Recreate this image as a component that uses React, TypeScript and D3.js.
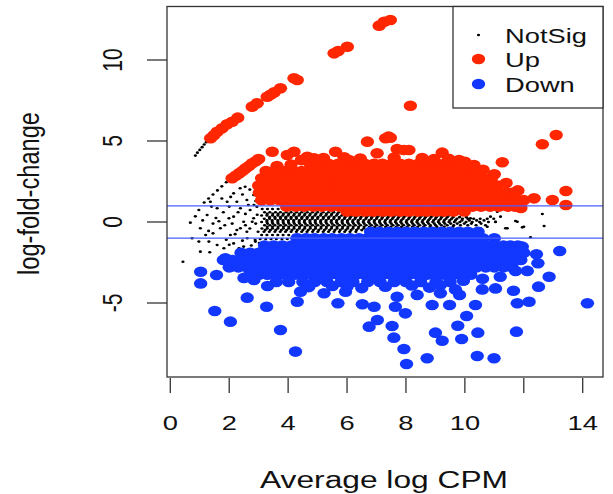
import React from "react";
import * as d3 from "d3";

type Pt = [number, number];
type Row = { y: number; xs: number[] };

const xTicks = [0, 2, 4, 6, 8, 10, 12, 14];
const xTickLabels = ["0", "2", "4", "6", "8", "10", "", "14"];
const yTicks = [-5, 0, 5, 10];
const yTickLabels = ["-5", "0", "5", "10"];
const legendLabels = ["NotSig", "Up", "Down"];
const refLines = [1, -1];

// Up (red) — isolated / streak / fringe points
const upPoints: Pt[] = [
  [1.37, 5.17], [1.48, 5.35], [1.59, 5.57], [1.76, 5.78], [1.93, 6.03], [2.1, 6.19], [2.29, 6.44],
  [2.78, 7.12], [2.95, 7.33], [3.29, 7.73], [3.4, 7.85], [3.52, 8.0], [3.74, 8.25], [4.2, 8.87], [4.31, 8.77],
  [5.56, 10.41], [5.7, 10.55], [6.01, 10.82], [7.09, 12.12], [7.26, 12.36], [7.47, 12.47],
  [2.1, 2.7], [2.22, 2.85], [2.33, 3.0], [2.45, 3.15], [2.55, 3.31], [2.67, 3.46], [2.78, 3.62], [2.9, 3.75], [3.0, 3.89],
  [3.46, 4.34], [3.97, 4.14], [4.2, 4.34], [4.65, 4.03], [4.88, 3.93], [5.61, 4.34], [6.07, 3.83], [6.69, 4.96],
  [7.31, 5.17], [7.41, 5.27], [7.02, 4.24], [7.47, 5.2], [7.7, 4.5], [8.1, 4.44], [7.93, 4.44], [8.15, 7.18],
  [9.23, 4.28], [9.8, 3.83], [10.31, 3.52], [11.27, 3.69], [12.63, 4.8], [13.1, 5.37], [13.43, 1.91], [13.43, 1.05],
  [12.35, 1.46], [12.97, 1.36], [11.67, 1.42], [10.43, 2.9], [11.9, 0.86],
  [5.2, 3.95], [5.9, 4.0], [6.45, 3.92], [7.6, 3.98], [8.55, 3.95], [8.95, 3.88], [9.45, 3.9], [10.0, 3.72],
  [10.62, 3.22], [11.0, 2.95], [3.62, 3.45], [4.1, 3.55], [4.45, 3.82], [11.4, 2.4], [11.8, 1.95],
];

// Up (red) — dense body, read row by row
const upRows: Row[] = [
  { y: 3.6, xs: [4.75, 5.05, 5.37, 5.7, 6.0, 6.32, 6.6, 6.92, 7.2, 7.52, 7.8, 8.1, 8.42, 8.7, 9.02, 9.3, 9.62, 9.95] },
  { y: 3.15, xs: [3.25, 3.55, 3.86, 4.15, 4.46, 4.75, 5.06, 5.35, 5.66, 5.95, 6.26, 6.55, 6.86, 7.15, 7.46, 7.75, 8.06, 8.35, 8.66, 8.95, 9.26, 9.55, 9.86, 10.15, 10.45] },
  { y: 2.7, xs: [3.1, 3.41, 3.7, 4.01, 4.3, 4.61, 4.9, 5.21, 5.5, 5.81, 6.1, 6.41, 6.7, 7.01, 7.3, 7.61, 7.9, 8.21, 8.5, 8.81, 9.1, 9.41, 9.7, 10.01, 10.3, 10.61, 10.9] },
  { y: 2.25, xs: [3.0, 3.31, 3.6, 3.91, 4.2, 4.51, 4.8, 5.11, 5.4, 5.71, 6.0, 6.31, 6.6, 6.91, 7.2, 7.51, 7.8, 8.11, 8.4, 8.71, 9.0, 9.31, 9.6, 9.91, 10.2, 10.51, 10.8, 11.12] },
  { y: 1.8, xs: [3.02, 3.32, 3.63, 3.92, 4.23, 4.52, 4.83, 5.12, 5.43, 5.72, 6.03, 6.32, 6.63, 6.92, 7.23, 7.52, 7.83, 8.12, 8.43, 8.72, 9.03, 9.32, 9.63, 9.92, 10.23, 10.52, 10.83, 11.12, 11.42, 11.62] },
  { y: 1.35, xs: [3.1, 3.4, 3.71, 4.0, 4.31, 4.6, 4.91, 5.2, 5.51, 5.8, 6.11, 6.4, 6.71, 7.0, 7.31, 7.6, 7.91, 8.2, 8.51, 8.8, 9.11, 9.4, 9.71, 10.0, 10.31, 10.6, 10.91, 11.2, 11.51, 11.8, 12.0] },
  { y: 0.95, xs: [3.95, 4.26, 4.55, 4.86, 5.15, 5.46, 5.75, 6.06, 6.35, 6.66, 6.95, 7.26, 7.55, 7.86, 8.15, 8.46, 8.75, 9.06, 9.35, 9.66, 9.95, 10.26, 10.55, 10.86, 11.15, 11.46, 11.7] },
  { y: 0.65, xs: [6.0, 6.3, 6.61, 6.9, 7.21, 7.5, 7.81, 8.1, 8.41, 8.7, 9.01, 9.3, 9.61, 9.98] },
];

// Down (blue) — isolated points
const downPoints: Pt[] = [
  [1.03, -3.07], [1.03, -3.79], [1.57, -3.27], [1.51, -5.49], [2.04, -6.15], [2.61, -4.67], [3.27, -5.23],
  [2.84, -3.58], [3.74, -6.67], [4.25, -8.0], [4.31, -4.92], [4.42, -4.3], [5.22, -4.4], [5.69, -5.02],
  [5.95, -4.3], [6.52, -5.08], [6.92, -5.23], [7.03, -6.05], [6.75, -6.46], [1.87, -2.24], [2.04, -2.76],
  [14.16, -5.02], [13.22, -1.79], [12.86, -3.38], [12.5, -3.99], [12.43, -1.99], [12.48, -2.55], [12.18, -4.92],
  [11.78, -5.02], [11.65, -4.24], [11.75, -6.77], [10.99, -8.41], [10.42, -8.27], [10.44, -6.83], [10.36, -5.12],
  [10.06, -5.8], [9.76, -6.4], [9.89, -7.22], [9.23, -7.33], [9.0, -6.83], [8.72, -8.41], [8.02, -8.77],
  [7.93, -7.84], [7.59, -7.14], [7.53, -6.42], [7.98, -5.64], [7.64, -5.23], [8.89, -5.12], [9.48, -5.12],
  [9.82, -4.5], [10.59, -4.16], [11.04, -4.1], [9.17, -3.89], [9.17, -4.4], [9.68, -4.16], [8.38, -4.5],
  [7.7, -4.61], [12.12, -3.02], [11.72, -3.02], [11.95, -1.52], [11.44, -2.65],
  [3.3, -3.95], [4.7, -4.02], [5.5, -3.95], [6.5, -4.08], [7.3, -4.0], [8.2, -3.92], [8.8, -4.05],
  [10.6, -3.5], [11.2, -3.38], [2.5, -3.45], [9.95, -3.62], [6.0, -3.98],
];

// Down (blue) — dense body, read row by row
const downRows: Row[] = [
  { y: -0.6, xs: [6.8, 7.1, 7.41, 7.7, 8.01, 8.3, 8.61, 8.9, 9.21, 9.5, 9.81, 10.1, 10.45] },
  { y: -1.0, xs: [4.3, 4.61, 4.9, 5.21, 5.5, 5.81, 6.1, 6.41, 6.7, 7.01, 7.3, 7.61, 7.9, 8.21, 8.5, 8.81, 9.1, 9.41, 9.7, 10.01, 10.3, 10.61, 11.0] },
  { y: -1.45, xs: [3.2, 3.51, 3.8, 4.11, 4.4, 4.71, 5.0, 5.31, 5.6, 5.91, 6.2, 6.51, 6.8, 7.11, 7.4, 7.71, 8.0, 8.31, 8.6, 8.91, 9.2, 9.51, 9.8, 10.11, 10.4, 10.71, 11.0, 11.31, 11.55, 11.8] },
  { y: -1.9, xs: [2.4, 2.71, 3.0, 3.31, 3.6, 3.91, 4.2, 4.51, 4.8, 5.11, 5.4, 5.71, 6.0, 6.31, 6.6, 6.91, 7.2, 7.51, 7.8, 8.11, 8.4, 8.71, 9.0, 9.31, 9.6, 9.91, 10.2, 10.51, 10.8, 11.11, 11.4, 11.71, 12.0] },
  { y: -2.35, xs: [1.8, 2.11, 2.4, 2.71, 3.0, 3.31, 3.6, 3.91, 4.2, 4.51, 4.8, 5.11, 5.4, 5.71, 6.0, 6.31, 6.6, 6.91, 7.2, 7.51, 7.8, 8.11, 8.4, 8.71, 9.0, 9.31, 9.6, 9.91, 10.2, 10.51, 10.8, 11.11, 11.4, 11.7, 11.9] },
  { y: -2.8, xs: [2.0, 2.31, 2.6, 2.91, 3.2, 3.51, 3.8, 4.11, 4.4, 4.71, 5.0, 5.31, 5.6, 5.91, 6.2, 6.51, 6.8, 7.11, 7.4, 7.71, 8.0, 8.31, 8.6, 8.91, 9.2, 9.51, 9.8, 10.11, 10.4, 10.71, 11.0, 11.31, 11.6] },
  { y: -3.25, xs: [2.7, 3.01, 3.3, 3.61, 3.9, 4.21, 4.5, 4.81, 5.1, 5.41, 5.7, 6.01, 6.3, 6.61, 6.9, 7.21, 7.5, 7.81, 8.1, 8.41, 8.7, 9.01, 9.3, 9.61, 9.9, 10.2] },
  { y: -3.7, xs: [3.6, 4.02, 4.5, 4.9, 5.32, 5.8, 6.2, 6.7, 7.12, 7.6, 8.0, 8.5, 9.02, 9.5] },
];

// NotSig (black) — scattered points
const notSigPoints: Pt[] = [
  [0.43, -2.45], [0.74, -1.0], [0.68, -0.04], [0.97, 0.74], [1.02, -0.39], [0.97, -1.21], [1.02, -1.83],
  [1.31, -1.21], [1.25, 0.43], [1.36, 1.25], [1.59, 0.85], [1.7, -0.39], [1.59, -1.42], [1.34, -1.87],
  [1.93, 1.25], [1.99, 0.23], [2.04, -0.8], [1.82, -1.62], [2.33, -1.62], [2.38, 0.85], [2.38, -0.39],
  [2.61, -1.0], [2.78, 0.02], [2.84, 1.05], [2.89, -1.21], [2.15, 1.77], [2.37, 2.08], [2.54, 2.18],
  [2.26, 1.25], [2.6, 1.36], [2.83, 1.67], [2.71, 0.74], [2.94, 0.94], [2.15, 0.33], [2.49, 0.02],
  [2.83, 0.23], [2.26, -0.49], [2.6, -0.6], [2.88, -1.11], [2.15, -1.32], [2.49, -1.52], [2.26, -1.93],
  [0.85, 4.1], [0.92, 4.28], [1.0, 4.45], [1.08, 4.62], [1.15, 4.78], [1.22, 4.93],
  [1.15, 1.2], [1.3, 1.45], [1.45, 1.7], [1.6, 1.95], [1.75, 2.2], [1.9, 2.45],
  [1.1, 0.1], [1.45, -0.7], [1.8, 0.6], [2.1, -0.1], [1.9, -1.1], [2.7, -0.4], [2.55, 0.5], [2.95, 0.45],
  [2.98, -0.6], [1.2, -0.8], [1.55, 0.25], [0.85, 0.35],
  [1.4, 0.95], [1.75, 1.45], [2.05, 1.55], [2.45, 1.7], [2.7, 2.0], [2.95, 2.25], [2.0, 0.95], [2.3, 0.6],
  [2.65, 1.05], [2.9, 1.3], [1.65, 0.05], [1.85, -0.2], [2.2, -0.75], [2.45, -1.15], [2.75, -1.45],
  [1.45, -0.1], [2.55, -0.2], [2.9, -0.1], [1.3, -0.55], [2.0, -1.4],
  [11.65, 1.98], [11.1, 0.64], [10.87, 0.33], [11.21, 0.33], [11.78, 0.02], [12.23, -0.94], [12.63, 0.49],
  [12.69, -0.25], [12.0, -0.29], [11.38, -0.39], [11.04, 0.02], [10.76, -0.29], [11.72, 0.06], [11.95, -0.33],
  [11.44, -0.39], [10.53, -0.39], [10.19, 0.23],
];

// NotSig (black) — dense band between the two groups, read row by row
const notSigRows: Row[] = [
  { y: 0.8, xs: [3.12, 3.3, 3.47, 3.66, 3.83, 4.02, 4.2, 4.37, 4.56] },
  { y: 0.6, xs: [3.2, 3.38, 3.57, 3.74, 3.93, 4.1, 4.29, 4.46, 4.65, 4.83, 5.0, 5.19, 5.37, 5.55, 5.72, 5.9, 6.08] },
  { y: 0.5, xs: [3.29, 3.48, 3.66, 3.84, 4.02, 4.21, 4.39, 4.57, 4.75, 4.94, 5.12, 5.3, 5.48, 5.67, 5.85, 6.03, 6.21, 6.4, 6.58, 6.76, 6.94, 7.13, 7.31, 7.5] },
  { y: 0.4, xs: [3.1, 3.28, 3.47, 3.65, 3.82, 4.0, 4.19, 4.37, 4.55, 4.73, 4.91, 5.1, 5.28, 5.46, 5.64, 5.82, 6.0, 6.18, 6.36, 6.55, 6.73, 6.91, 7.09, 7.27, 7.45, 7.63, 7.82, 8.0, 8.18, 8.36, 8.55, 8.73, 8.91, 9.1, 9.28, 9.46] },
  { y: 0.3, xs: [3.37, 3.55, 3.74, 3.92, 4.1, 4.28, 4.47, 4.65, 4.83, 5.01, 5.2, 5.38, 5.56, 5.74, 5.93, 6.11, 6.29, 6.47, 6.66, 6.84, 7.02, 7.2, 7.39, 7.57, 7.75, 7.93, 8.12, 8.3, 8.48, 8.66, 8.85, 9.03, 9.21, 9.4, 9.6, 9.82, 10.05] },
  { y: 0.2, xs: [3.19, 3.37, 3.56, 3.74, 3.92, 4.1, 4.28, 4.46, 4.64, 4.82, 5.0, 5.19, 5.37, 5.55, 5.73, 5.91, 6.09, 6.27, 6.45, 6.64, 6.82, 7.0, 7.18, 7.36, 7.54, 7.72, 7.9, 8.09, 8.27, 8.45, 8.63, 8.81, 9.0, 9.18, 9.36, 9.55, 9.73, 9.92, 10.1, 10.3, 10.52, 10.76, 10.98] },
  { y: 0.1, xs: [3.28, 3.46, 3.65, 3.83, 4.01, 4.19, 4.38, 4.56, 4.74, 4.92, 5.11, 5.29, 5.47, 5.65, 5.84, 6.02, 6.2, 6.38, 6.57, 6.75, 6.93, 7.11, 7.3, 7.48, 7.66, 7.84, 8.03, 8.21, 8.39, 8.57, 8.76, 8.94, 9.12, 9.3, 9.49, 9.68, 9.9, 10.15, 10.4, 10.65] },
  { y: 0.0, xs: [3.1, 3.28, 3.46, 3.65, 3.83, 4.01, 4.19, 4.37, 4.55, 4.74, 4.92, 5.1, 5.28, 5.46, 5.64, 5.83, 6.01, 6.19, 6.37, 6.55, 6.73, 6.92, 7.1, 7.28, 7.46, 7.64, 7.82, 8.01, 8.19, 8.37, 8.55, 8.73, 8.91, 9.1, 9.28, 9.46, 9.64, 9.83, 10.04, 10.25, 10.5, 10.8, 11.04] },
  { y: -0.1, xs: [3.3, 3.48, 3.66, 3.85, 4.03, 4.21, 4.39, 4.58, 4.76, 4.94, 5.12, 5.31, 5.49, 5.67, 5.85, 6.04, 6.22, 6.4, 6.58, 6.77, 6.95, 7.13, 7.31, 7.5, 7.68, 7.86, 8.04, 8.23, 8.41, 8.59, 8.77, 8.96, 9.14, 9.32, 9.52, 9.74, 9.98, 10.22, 10.55] },
  { y: -0.2, xs: [3.2, 3.38, 3.55, 3.74, 3.92, 4.1, 4.28, 4.46, 4.65, 4.83, 5.01, 5.19, 5.37, 5.56, 5.74, 5.92, 6.1, 6.28, 6.46, 6.65, 6.83, 7.01, 7.19, 7.37, 7.56, 7.74, 7.92, 8.1, 8.28, 8.47, 8.65, 8.83, 9.01, 9.2, 9.4, 9.62, 9.85, 10.1, 10.38, 10.7] },
  { y: -0.3, xs: [3.29, 3.47, 3.66, 3.84, 4.02, 4.2, 4.39, 4.57, 4.75, 4.93, 5.12, 5.3, 5.48, 5.66, 5.85, 6.03, 6.21, 6.39, 6.58, 6.76, 6.94, 7.12, 7.31, 7.49, 7.67, 7.85, 8.04, 8.22, 8.4, 8.6, 8.82, 9.05, 9.3, 9.6] },
  { y: -0.4, xs: [3.11, 3.29, 3.47, 3.65, 3.84, 4.02, 4.2, 4.38, 4.56, 4.75, 4.93, 5.11, 5.29, 5.47, 5.66, 5.84, 6.02, 6.2, 6.38, 6.57, 6.75, 6.93, 7.11, 7.3, 7.48, 7.66, 7.84, 8.03, 8.21, 8.4, 8.6, 8.8, 9.0] },
  { y: -0.5, xs: [3.22, 3.4, 3.58, 3.77, 3.95, 4.13, 4.31, 4.5, 4.68, 4.86, 5.04, 5.23, 5.41, 5.59, 5.77, 5.96, 6.14, 6.32, 6.5, 6.69, 6.87, 7.05, 7.25] },
  { y: -0.6, xs: [3.18, 3.36, 3.55, 3.73, 3.91, 4.1, 4.28, 4.46, 4.64, 4.83, 5.01, 5.19, 5.37, 5.56, 5.74, 5.92, 6.1, 6.3] },
  { y: -0.8, xs: [3.1, 3.28, 3.47, 3.65, 3.83, 4.02, 4.2, 4.39, 4.57, 4.76, 4.95] },
  { y: -1.05, xs: [3.05, 3.24, 3.42, 3.6, 3.79, 3.97] },
  { y: -1.3, xs: [3.02, 3.2, 3.38] },
];

const RED = "#ff2600";
const BLUE = "#1238ff";
const LINE_BLUE = "#4a5cff";
const FONT = "'Liberation Sans', Arial, Helvetica, sans-serif";
const SX = 1.3;

const flatten = (rows: Row[]): Pt[] => rows.flatMap((r) => r.xs.map((x) => [x, r.y] as Pt));

export default function App() {
  const W = 613;
  const H = 494;
  const box = { left: 167, right: 603, top: 6.5, bottom: 377 };

  const x = d3.scaleLinear().domain([0, 14]).range([170.3, 582.7]);
  const y = d3.scaleLinear().domain([-5, 10]).range([303, 60]);

  const notSig = [...notSigPoints, ...flatten(notSigRows)];
  const up = [...flatten(upRows), ...upPoints];
  const down = [...flatten(downRows), ...downPoints];

  const rx = 6.7;
  const ry = 5.3;

  return (
    <svg width={W} height={H} style={{ position: "absolute", left: 0, top: 0, background: "#fff" }} fontFamily={FONT}>
      <defs>
        <clipPath id="plotClip">
          <rect x={box.left} y={box.top} width={box.right - box.left} height={box.bottom - box.top} />
        </clipPath>
      </defs>
      <g clipPath="url(#plotClip)">
        {notSig.map((p, i) => (
          <ellipse key={"n" + i} cx={x(p[0])} cy={y(p[1])} rx={1.6} ry={1.3} fill="#000" />
        ))}
        {up.map((p, i) => (
          <ellipse key={"u" + i} cx={x(p[0])} cy={y(p[1])} rx={rx} ry={ry} fill={RED} />
        ))}
        {down.map((p, i) => (
          <ellipse key={"d" + i} cx={x(p[0])} cy={y(p[1])} rx={rx} ry={ry} fill={BLUE} />
        ))}
        {refLines.map((v) => (
          <line key={"h" + v} x1={box.left} x2={box.right} y1={y(v)} y2={y(v)} stroke={LINE_BLUE} strokeWidth={1.3} />
        ))}
      </g>
      <rect
        x={box.left}
        y={box.top}
        width={box.right - box.left}
        height={box.bottom - box.top}
        fill="none"
        stroke="#333"
        strokeWidth={1.3}
      />
      {xTicks.map((t, i) => (
        <g key={"xt" + t}>
          <line x1={x(t)} x2={x(t)} y1={box.bottom + 1} y2={393} stroke="#333" strokeWidth={1.3} />
          {xTickLabels[i] !== "" && (
            <text
              transform={`translate(${x(t)},430) scale(${SX},1)`}
              textAnchor="middle"
              fontSize={21}
              fill="#111"
            >
              {xTickLabels[i]}
            </text>
          )}
        </g>
      ))}
      {yTicks.map((t, i) => (
        <g key={"yt" + t}>
          <line x1={147} x2={box.left} y1={y(t)} y2={y(t)} stroke="#333" strokeWidth={1.3} />
          <text
            transform={`translate(121.5,${y(t)}) scale(${SX},1) rotate(-90)`}
            textAnchor="middle"
            fontSize={21}
            fill="#111"
          >
            {yTickLabels[i]}
          </text>
        </g>
      ))}
      <text x={384} y={488} textAnchor="middle" fontSize={23} fill="#111" textLength={248} lengthAdjust="spacingAndGlyphs">
        Average log CPM
      </text>
      <text
        transform={`translate(39,193.5) scale(${SX},1) rotate(-90)`}
        textAnchor="middle"
        fontSize={22}
        fill="#111"
        textLength={163}
        lengthAdjust="spacingAndGlyphs"
      >
        log-fold-change
      </text>
      <rect x={453} y={box.top} width={box.right - 453} height={108 - box.top} fill="#fff" stroke="#333" strokeWidth={1.3} />
      {legendLabels.map((lab, i) => {
        const cy = [35, 59, 84][i];
        return (
          <g key={lab}>
            {i === 0 ? (
              <ellipse cx={478.5} cy={cy} rx={1.6} ry={1.3} fill="#000" />
            ) : (
              <ellipse cx={478.5} cy={cy} rx={rx} ry={ry} fill={i === 1 ? RED : BLUE} />
            )}
            <text transform={`translate(505,${cy + 8}) scale(${SX},1)`} fontSize={21} fill="#111">
              {lab}
            </text>
          </g>
        );
      })}
    </svg>
  );
}
